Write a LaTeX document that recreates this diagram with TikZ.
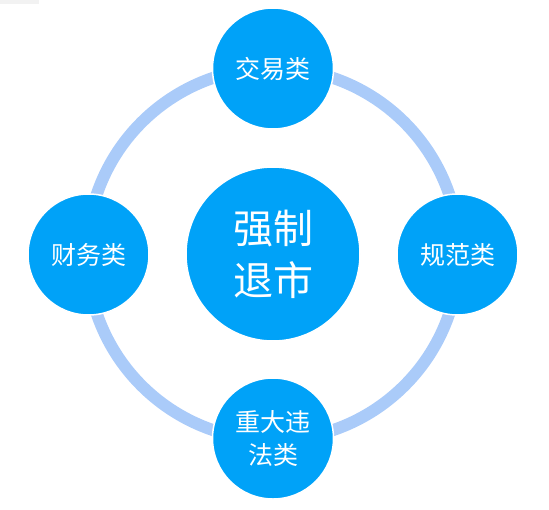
\documentclass[tikz,border=0pt]{standalone}
\usepackage{fontspec}
\newfontfamily\cjk{Noto Sans CJK SC}
\definecolor{ballblue}{HTML}{00A2F8}
\definecolor{ringblue}{HTML}{AACBF9}
\definecolor{cornergray}{HTML}{F2F2F2}
\tikzset{
  ball/.style={circle, fill=ballblue, draw=white, line width=1.5pt, inner sep=0pt,
    minimum size=121pt, text=white, align=center, font=\cjk\fontsize{25pt}{33pt}\selectfont},
  core/.style={ball, minimum size=174pt, font=\cjk\fontsize{40pt}{52pt}\selectfont}
}
\begin{document}
\begin{tikzpicture}[x=1pt, y=-1pt]
	\useasboundingbox (0,0) rectangle (549,509);
	\fill[cornergray] (0,0) rectangle (39,4);
	\coordinate (o) at (273,254);
	\draw[ringblue, line width=12pt] (o) circle (186pt);
	\node[core] (force) at (o) {强制\\退市};
	\node[ball] (trade) at (273,68.5) {交易类};
	\node[ball] (norm) at (457.5,254.5) {规范类};
	\node[ball] (major) at (273,438.5) {重大违\\法类};
	\node[ball] (money) at (88.5,254.5) {财务类};
\end{tikzpicture}
\end{document}
